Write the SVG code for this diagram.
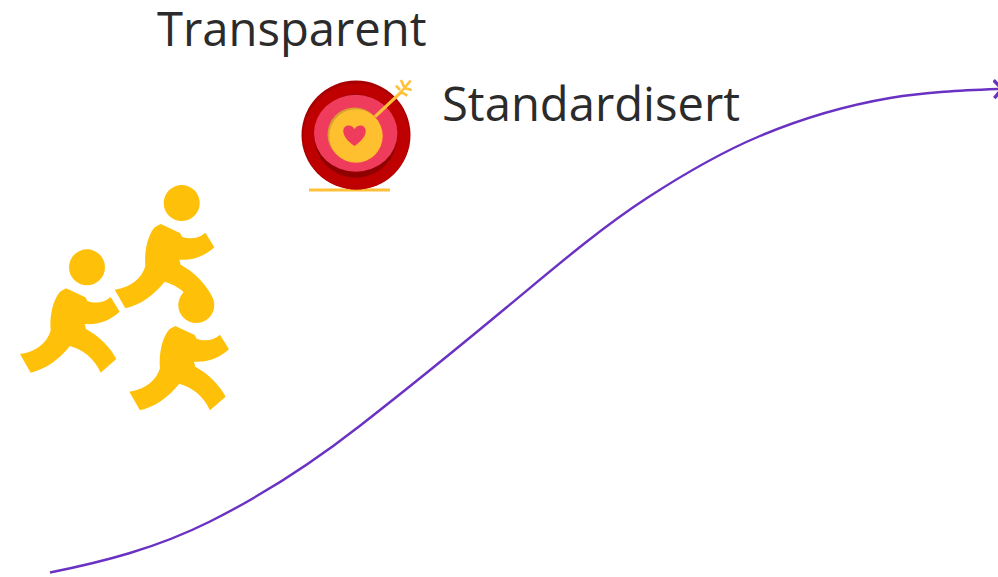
<svg xmlns="http://www.w3.org/2000/svg" width="998" height="577" viewBox="0 0 998 577">
<style>
.lbl{font-family:"Open Sans","Noto Sans",sans-serif;font-size:47.2px;fill:#2b2b2b}
.runner{fill:#FFC00A}
.conn{fill:none;stroke:#6A32C2;stroke-width:2.4}
.feather{fill:none;stroke:#FFC03A;stroke-width:2.6}
</style>
<defs>
<g id="runner" class="runner">
<circle cx="231" cy="277" r="54"/>
<path d="M168 340L226 367L232 378C258 387 282 383 302 366L329 410C298 438 262 450 224 447L228 462C268 484 300 516 319 552L272 593C254 552 220 524 180 513C148 553 108 582 62 593L30 537C78 530 110 505 122 467C118 425 128 375 150 350Z"/>
</g>
<marker id="arrow" markerWidth="14" markerHeight="24" refX="5" refY="11" orient="auto" markerUnits="userSpaceOnUse">
<path d="M1 2L9 11L1 20" fill="none" stroke="#6A32C2" stroke-width="3.400"/>
</marker>
</defs>
<g id="connectors">
<path class="conn" marker-end="url(#arrow)" d="M50 572.500C103.300 561.800 156.700 548.200 210 521.500C260 496.500 310 464.700 360 425.700C409 387.500 458 347.700 507 307C553.700 268.300 600.300 228.300 647 198C684.700 173.500 722.300 151.800 760 136C803.300 117.800 846.700 105.400 890 98C926 91.900 962 90.400 998 89"/>
</g>
<g id="runners">
<use href="#runner" transform="translate(10 175) scale(.3333)"/>
<use href="#runner" transform="translate(104.700 110.700) scale(.3333)"/>
<use href="#runner" transform="translate(119.300 212.700) scale(.3333)"/>
</g>
<g id="target">
<rect x="309" y="188.500" width="81" height="3" fill="#FFC03A"/>
<circle cx="356" cy="135" r="54.500" fill="#A80000"/>
<circle cx="356.500" cy="136.500" r="53" fill="#BE0000"/>
<circle cx="355.700" cy="136" r="41.700" fill="#8F0000"/>
<ellipse cx="355.700" cy="133.300" rx="41.700" ry="38.500" fill="#F03C5C"/>
<circle cx="354.500" cy="134.500" r="27" fill="#D9A030"/>
<circle cx="356" cy="136" r="26.700" fill="#FFC02F"/>
<path d="M375 116.700L401.700 91.700" stroke="#FFC03A" stroke-width="3.200" fill="none"/>
<path class="feather" d="M401 92L410.700 80.500M400 90L396 85.700M404 86.700L401 80M401.700 92.300L407.300 95.700M405 88.300L411.700 90"/>
<path d="M354.500 146C347.500 141 343.300 136 343.300 131C343.300 125 351 123.500 354.500 129C358 123.500 365.700 125 365.700 131C365.700 136 361.500 141 354.500 146Z" fill="#F03C5C"/>
</g>
<g id="transparent"><text class="lbl" x="157" y="45.500">Transparent</text></g>
<g id="standardisert"><text class="lbl" x="442" y="121">Standardisert</text></g>
</svg>
